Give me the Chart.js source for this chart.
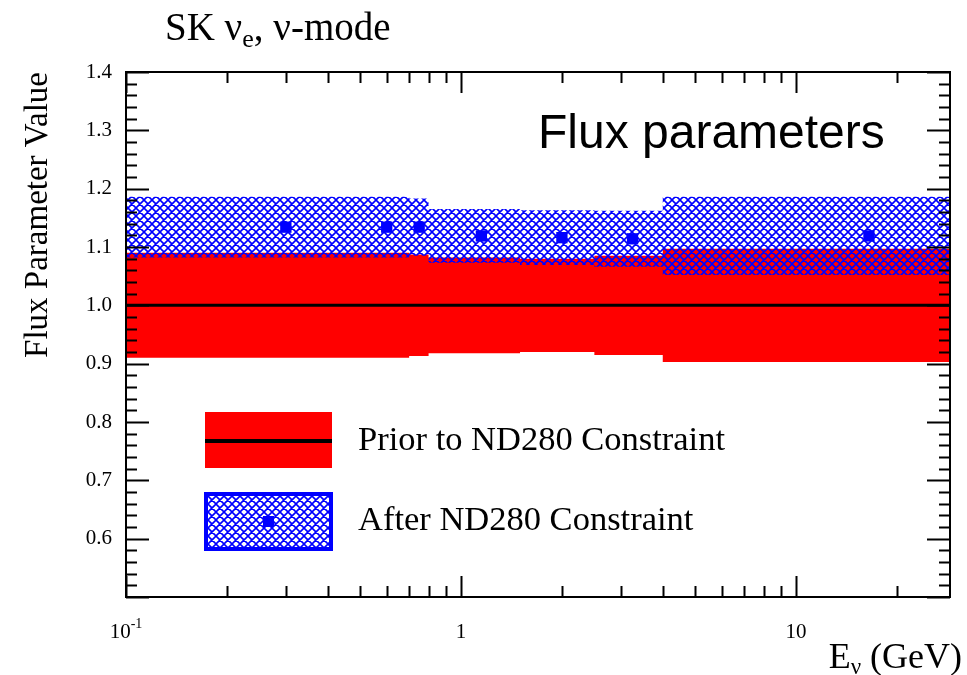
<!DOCTYPE html>
<html>
<head>
<meta charset="utf-8">
<title>SK nue flux parameters</title>
<script src="https://cdn.jsdelivr.net/npm/chart.js@4.4.0/dist/chart.umd.min.js"></script>
<style>
  html, body { margin: 0; padding: 0; background: #fff; }
  #wrap { width: 967px; height: 675px; position: relative; }
</style>
</head>
<body>
<div id="wrap"><canvas id="fluxChart"></canvas></div>
<script>
// SK nu_e (nu-mode) flux parameters, before and after the ND280 fit

// Energy bin edges in GeV
const binEdges = [0.1, 0.5, 0.7, 0.8, 1.5, 2.5, 4.0, 30];

// Prior: nominal value with +/- 1 sigma per bin
const priorCentre = [1.0, 1.0, 1.0, 1.0, 1.0, 1.0, 1.0];
const priorError = [0.090, 0.090, 0.087, 0.082, 0.080, 0.085, 0.097];

// After ND280 constraint: central value and +/- 1 sigma per bin
const afterEnergy = [0.3, 0.6, 0.75, 1.15, 2.0, 3.25, 16.5];
const afterCentre = [1.134, 1.134, 1.134, 1.119, 1.116, 1.114, 1.119];
const afterError = [0.052, 0.052, 0.049, 0.046, 0.047, 0.048, 0.067];

// Axis ranges and labels
const yRange = [0.5, 1.4];
const xRange = [0.1, 28.8];
const xLabelValues = [0.1, 1, 10];
const xLabelBase = ['10', '1', '10'];
const xLabelExp = ['-1', '', ''];

const SERIF = '"Liberation Serif", "Times New Roman", serif';
const SANS = '"Liberation Sans", Arial, sans-serif';
const RED = '#ff0000';
const BLUE = '#0000ff';

// Step outline for a band: one point per lower bin edge, plus the last edge
function stepBand(values, errors, sign) {
    const pts = values.map((v, i) => ({ x: binEdges[i], y: v + sign * errors[i] }));
    const last = values.length - 1;
    pts.push({ x: binEdges[binEdges.length - 1], y: values[last] + sign * errors[last] });
    return pts;
}

// Blue cross-hatch fill
function makeHatch() {
    const c = document.createElement('canvas');
    const s = 8;
    c.width = s; c.height = s;
    const g = c.getContext('2d');
    g.strokeStyle = BLUE;
    g.lineWidth = 1.6;
    g.beginPath();
    for (let o = -s; o <= s; o += s) {
        g.moveTo(o, 0); g.lineTo(o + s, s);
        g.moveTo(o, s); g.lineTo(o + s, 0);
    }
    g.stroke();
    return g.createPattern(c, 'repeat');
}
const hatch = makeHatch();

// Frame, inward ticks, axis labels, titles and legend
const rootFrame = {
    id: 'rootFrame',
    afterDraw(chart) {
        const { ctx, chartArea: a, scales: { x, y } } = chart;
        ctx.save();
        ctx.strokeStyle = '#000';
        ctx.fillStyle = '#000';
        ctx.lineWidth = 2;

        // y ticks, left and right
        ctx.beginPath();
        for (let k = 25; k <= 70; k++) {
            const py = Math.round(y.getPixelForValue(k * 0.02)) + 0.5;
            const len = k % 5 === 0 ? 23 : 11;
            ctx.moveTo(a.left, py); ctx.lineTo(a.left + len, py);
            ctx.moveTo(a.right, py); ctx.lineTo(a.right - len, py);
        }
        // x ticks, bottom and top
        [0.1, 1, 10].forEach(dec => {
            for (let m = 1; m <= 9; m++) {
                const v = m * dec;
                if (v < xRange[0] || v > xRange[1]) continue;
                const px = Math.round(x.getPixelForValue(v)) + 0.5;
                const len = m === 1 ? 21 : 11;
                ctx.moveTo(px, a.bottom); ctx.lineTo(px, a.bottom - len);
                ctx.moveTo(px, a.top); ctx.lineTo(px, a.top + len);
            }
        });
        ctx.stroke();
        ctx.strokeRect(a.left, a.top, a.right - a.left, a.bottom - a.top);

        // x tick labels
        ctx.textBaseline = 'middle';
        xLabelValues.forEach((v, i) => {
            const px = x.getPixelForValue(v);
            ctx.font = '21px ' + SERIF;
            const wb = ctx.measureText(xLabelBase[i]).width;
            ctx.font = '14px ' + SERIF;
            const we = xLabelExp[i] ? ctx.measureText(xLabelExp[i]).width : 0;
            const x0 = px - (wb + we) / 2;
            ctx.font = '21px ' + SERIF;
            ctx.textAlign = 'left';
            ctx.fillText(xLabelBase[i], x0, 632);
            if (xLabelExp[i]) {
                ctx.font = '14px ' + SERIF;
                ctx.fillText(xLabelExp[i], x0 + wb, 624);
            }
        });

        // x axis title, right aligned
        ctx.textBaseline = 'alphabetic';
        ctx.font = '36px ' + SERIF;
        const wE = ctx.measureText('E').width;
        const wG = ctx.measureText(' (GeV)').width;
        ctx.font = '23px ' + SERIF;
        const wNu = ctx.measureText('\u03bd').width;
        let tx = 962 - (wE + wNu + wG);
        ctx.font = '36px ' + SERIF;
        ctx.fillText('E', tx, 668);
        ctx.font = '23px ' + SERIF;
        ctx.fillText('\u03bd', tx + wE, 674);
        ctx.font = '36px ' + SERIF;
        ctx.fillText(' (GeV)', tx + wE + wNu, 668);

        // y axis title, aligned to the top of the frame
        ctx.save();
        ctx.translate(38, a.top);
        ctx.rotate(-Math.PI / 2);
        ctx.textAlign = 'right';
        ctx.textBaseline = 'middle';
        ctx.font = '33px ' + SERIF;
        ctx.fillText('Flux Parameter Value', 0, 0);
        ctx.restore();

        // plot title
        ctx.textAlign = 'left';
        ctx.textBaseline = 'alphabetic';
        ctx.font = '39px ' + SERIF;
        const t1 = 'SK \u03bd';
        ctx.fillText(t1, 165, 40);
        let cx = 165 + ctx.measureText(t1).width;
        ctx.font = '26px ' + SERIF;
        ctx.fillText('e', cx, 47);
        cx += ctx.measureText('e').width;
        ctx.font = '39px ' + SERIF;
        ctx.fillText(', \u03bd-mode', cx, 40);

        // label inside the frame
        ctx.font = '48px ' + SANS;
        ctx.fillText('Flux parameters', 538, 148);

        // legend: prior band with nominal line
        ctx.fillStyle = RED;
        ctx.fillRect(205, 412, 127, 56);
        ctx.fillStyle = '#000';
        ctx.fillRect(205, 439, 127, 4);
        // legend: hatched box with point
        ctx.fillStyle = hatch;
        ctx.fillRect(206, 494, 125, 55);
        ctx.strokeStyle = BLUE;
        ctx.lineWidth = 4;
        ctx.strokeRect(206, 494, 125, 55);
        ctx.fillStyle = BLUE;
        ctx.fillRect(263, 516, 11, 11);

        ctx.fillStyle = '#000';
        ctx.font = '34.5px ' + SERIF;
        ctx.textBaseline = 'middle';
        ctx.fillText('Prior to ND280 Constraint', 358, 441);
        ctx.fillText('After ND280 Constraint', 358, 521);
        ctx.restore();
    }
};

const ctx = document.getElementById('fluxChart').getContext('2d');
const fluxChart = new Chart(ctx, {
    type: 'line',
    data: {
        datasets: [
            {
                // post-fit central values
                data: afterEnergy.map((e, i) => ({ x: e, y: afterCentre[i] })),
                showLine: false,
                pointStyle: 'rect',
                pointRadius: 8,
                pointBorderWidth: 0,
                pointBackgroundColor: BLUE,
                order: 0
            },
            {
                data: stepBand(afterCentre, afterError, -1),
                stepped: true,
                borderWidth: 0,
                pointRadius: 0,
                fill: false,
                order: 1
            },
            {
                data: stepBand(afterCentre, afterError, 1),
                stepped: true,
                borderWidth: 0,
                pointRadius: 0,
                fill: '-1',
                backgroundColor: hatch,
                order: 1
            },
            {
                // nominal prior value
                data: stepBand(priorCentre, priorError, 0),
                stepped: true,
                borderColor: '#000',
                borderWidth: 3,
                pointRadius: 0,
                fill: false,
                order: 2
            },
            {
                data: stepBand(priorCentre, priorError, -1),
                stepped: true,
                borderWidth: 0,
                pointRadius: 0,
                fill: false,
                order: 3
            },
            {
                data: stepBand(priorCentre, priorError, 1),
                stepped: true,
                borderWidth: 0,
                pointRadius: 0,
                fill: '-1',
                backgroundColor: RED,
                order: 3
            }
        ]
    },
    options: {
        responsive: true,
        maintainAspectRatio: false,
        animation: false,
        events: [],
        layout: { padding: { top: 72, right: 17, left: 0, bottom: 0 } },
        plugins: {
            legend: { display: false },
            tooltip: { enabled: false }
        },
        scales: {
            x: {
                type: 'logarithmic',
                min: xRange[0],
                max: xRange[1],
                grid: { display: false, drawTicks: false },
                border: { display: false },
                ticks: { display: false },
                afterFit: s => { s.height = 78; }
            },
            y: {
                type: 'linear',
                min: yRange[0],
                max: yRange[1],
                grid: { display: false, drawTicks: false },
                border: { display: false },
                ticks: {
                    stepSize: 0.1,
                    padding: 14,
                    color: '#000',
                    font: { family: SERIF, size: 21 },
                    callback: v => (v < 0.55 ? '' : v.toFixed(1))
                },
                afterFit: s => { s.width = 126; }
            }
        }
    },
    plugins: [rootFrame]
});
</script>
</body>
</html>
